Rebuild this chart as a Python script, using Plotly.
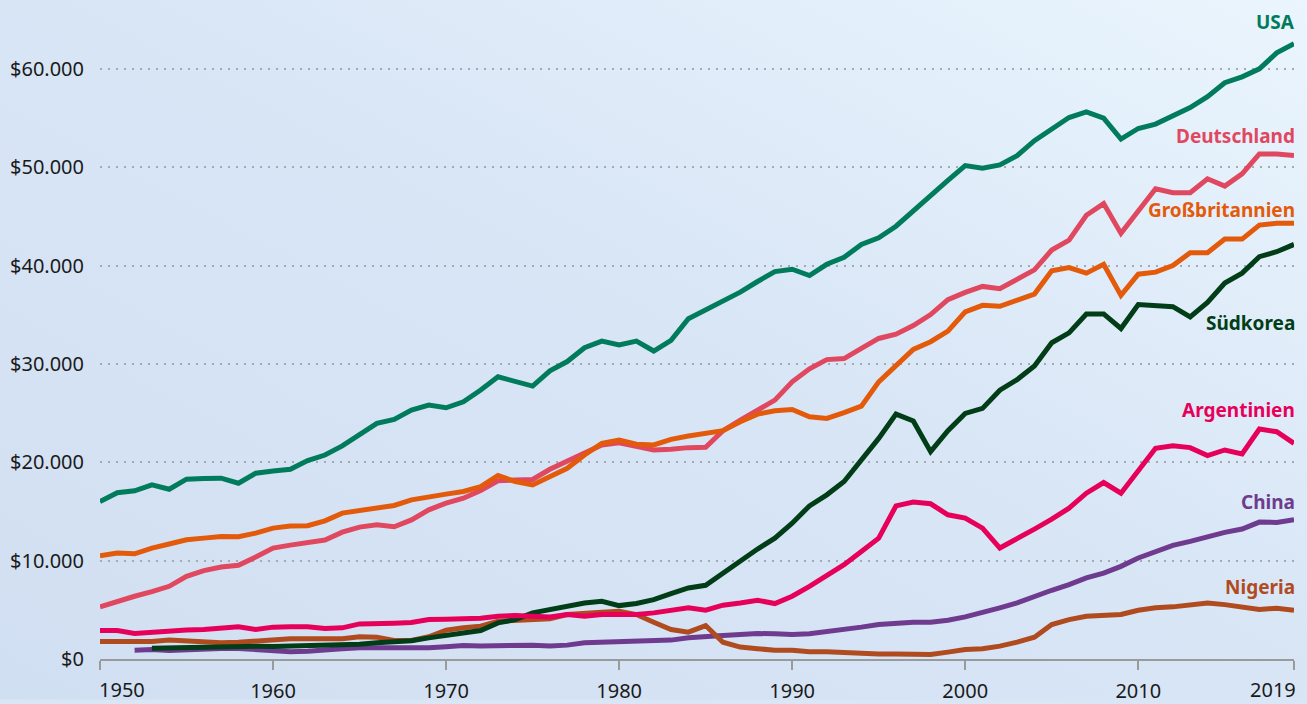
import base64
import plotly.graph_objects as go

years = list(range(1950, 2020))

usa = [16000, 16900, 17100, 17700, 17260, 18280, 18340, 18380, 17870, 18890,
       19120, 19290, 20170, 20740, 21660, 22770, 23960, 24360, 25310, 25810,
       25540, 26150, 27340, 28690, 28180, 27750, 29300, 30240, 31650, 32320,
       31920, 32320, 31310, 32390, 34600, 35520, 36300, 37300, 38380, 39390,
       39630, 38990, 40130, 40840, 42150, 42830, 44000, 45500, 47140, 48650,
       50170, 49900, 50240, 51180, 52700, 53940, 55050, 55620, 54980, 52860,
       53940, 54380, 55290, 56060, 57170, 58590, 59190, 60000, 61620, 62560]

deutschland = [5300, 5870, 6380, 6850, 7390, 8410, 8980, 9350, 9520, 10370,
               11280, 11580, 11890, 12090, 12900, 13410, 13650, 13440, 14140, 15170,
               15840, 16350, 17130, 18110, 18210, 18250, 19290, 20070, 20850, 21760,
               21990, 21590, 21250, 21320, 21490, 21520, 23210, 24290, 25370, 26320,
               28180, 29500, 30440, 30540, 31580, 32590, 33030, 33900, 35020, 36530,
               37270, 37880, 37640, 38550, 39560, 41580, 42590, 45120, 46300, 43270,
               45520, 47810, 47410, 47410, 48820, 48080, 49330, 51350, 51350, 51180]

grossbritannien = [10500, 10770, 10700, 11280, 11690, 12120, 12290, 12460, 12430, 12800,
                   13310, 13510, 13550, 14050, 14830, 15100, 15340, 15610, 16180, 16420,
                   16760, 17030, 17530, 18650, 18040, 17700, 18550, 19390, 20740, 21930,
                   22260, 21830, 21760, 22330, 22670, 22940, 23210, 24120, 24900, 25240,
                   25370, 24630, 24460, 25040, 25710, 28180, 29750, 31480, 32260, 33330,
                   35290, 35960, 35860, 36430, 37100, 39460, 39800, 39230, 40130, 36970,
                   39120, 39330, 40000, 41310, 41310, 42690, 42690, 44110, 44310, 44310]

suedkorea = [None, None, None, 1100, 1150, 1200, 1180, 1250, 1280, 1290,
             1280, 1300, 1320, 1400, 1450, 1500, 1650, 1800, 1850, 2150,
             2390, 2660, 2900, 3670, 4010, 4690, 5030, 5360, 5700, 5870,
             5430, 5640, 6040, 6650, 7220, 7490, 8740, 10030, 11180, 12290,
             13810, 15570, 16690, 18040, 20170, 22430, 24900, 24200, 21080, 23210,
             24970, 25480, 27330, 28400, 29800, 32150, 33160, 35080, 35080, 33600,
             36030, 35960, 35820, 34780, 36260, 38220, 39230, 40910, 41410, 42150]

argentinien = [2900, 2900, 2590, 2730, 2800, 2960, 3000, 3100, 3270, 3000,
               3240, 3270, 3270, 3100, 3170, 3570, 3570, 3640, 3710, 4010,
               4050, 4110, 4150, 4350, 4420, 4350, 4280, 4520, 4350, 4520,
               4490, 4520, 4690, 4960, 5200, 4960, 5470, 5700, 5970, 5640,
               6380, 7390, 8510, 9590, 10940, 12290, 15570, 15950, 15780, 14660,
               14320, 13310, 11280, 12190, 13210, 14220, 15340, 16860, 17940, 16860,
               19220, 21420, 21690, 21490, 20680, 21250, 20850, 23380, 23110, 21930]

china = [None, None, 900, 970, 870, 970, 1040, 1070, 1070, 970,
         900, 730, 800, 970, 1040, 1140, 1140, 1070, 1040, 1140,
         1240, 1380, 1310, 1380, 1380, 1410, 1310, 1410, 1650, 1710,
         1710, 1710, 1820, 1920, 2150, 2320, 2390, 2490, 2590, 2560,
         2490, 2560, 2760, 3000, 3240, 3510, 3670, 3740, 3740, 3940,
         4280, 4690, 5200, 5700, 6380, 6990, 7560, 8240, 8740, 9420,
         10270, 10940, 11550, 11960, 12460, 12870, 13210, 13920, 13880, 14150]

nigeria = [1780, 1750, 1710, 1780, 1920, 1820, 1710, 1650, 1710, 1820,
           1990, 2050, 2050, 2090, 2050, 2260, 2220, 1880, 1880, 2260,
           2930, 3170, 3340, 3840, 3950, 4010, 4080, 4520, 4590, 4760,
           4860, 4520, 3740, 3000, 2730, 3400, 1710, 1210, 1040, 900,
           900, 730, 730, 630, 530, 500, 500, 530, 460, 700,
           970, 1040, 1310, 1710, 2220, 3510, 4010, 4350, 4420, 4520,
           4960, 5200, 5300, 5530, 5700, 5530, 5300, 5030, 5160, 4960]

series_names = ["China", "Nigeria", "Südkorea", "Deutschland", "Großbritannien", "Argentinien", "USA"]
series_values = [china, nigeria, suedkorea, deutschland, grossbritannien, argentinien, usa]
series_colors = ["#6E3B8E", "#B04B1F", "#013D16", "#E0485F", "#E35A0B", "#E6005A", "#007B5C"]

label_names = ["USA", "Deutschland", "Großbritannien", "Südkorea", "Argentinien", "China", "Nigeria"]
label_y = [64750, 53130, 45660, 34140, 25350, 15960, 7370]
label_colors = ["#007B5C", "#E0485F", "#E35A0B", "#013D16", "#E6005A", "#6E3B8E", "#B04B1F"]

y_tickvals = [0, 10000, 20000, 30000, 40000, 50000, 60000]
y_ticktext = ["$0", "$10.000", "$20.000", "$30.000", "$40.000", "$50.000", "$60.000"]
x_tickvals = [1950, 1960, 1970, 1980, 1990, 2000, 2010, 2019]
x_ticktext = ["", "1960", "1970", "1980", "1990", "2000", "2010", ""]
x_edge_labels = [("1950", 1950, "left", -3), ("2019", 2019, "right", 4)]

W, H = 1307, 704
L, R, T, B = 100, 13, 0, 41

fig = go.Figure()
for name, vals, col in zip(series_names, series_values, series_colors):
    fig.add_trace(go.Scatter(x=years, y=vals, mode="lines", name=name,
                             line=dict(color=col, width=5), connectgaps=False,
                             showlegend=False, hoverinfo="skip"))

FONT = "Noto Sans"
for name, yv, col in zip(label_names, label_y, label_colors):
    fig.add_annotation(x=2019, y=yv, xref="x", yref="y", text="<b>" + name + "</b>",
                       showarrow=False, xanchor="right", yanchor="middle", xshift=3,
                       font=dict(family=FONT, size=19, color=col))

for txt, xv, anchor, xs in x_edge_labels:
    fig.add_annotation(x=xv, y=0, xref="x", yref="paper", text=txt, showarrow=False,
                       xanchor=anchor, yanchor="middle", yshift=-30, xshift=xs,
                       font=dict(family=FONT, size=20, color="#1A1A1A"))

svg = ('<svg xmlns="http://www.w3.org/2000/svg" width="%d" height="%d">'
       '<defs><linearGradient id="g" x1="0" y1="1" x2="1" y2="0">'
       '<stop offset="0" stop-color="#D1DFF2"/><stop offset="0.55" stop-color="#D9E6F6"/>'
       '<stop offset="1" stop-color="#EAF5FD"/></linearGradient></defs>'
       '<rect width="%d" height="%d" fill="url(#g)"/></svg>') % (W, H, W, H)
src = "data:image/svg+xml;base64," + base64.b64encode(svg.encode()).decode()
pw = W - L - R
ph = H - T - B
fig.add_layout_image(dict(source=src, xref="paper", yref="paper",
                          x=-L / pw, y=1 + T / ph, sizex=W / pw, sizey=H / ph,
                          xanchor="left", yanchor="top", sizing="stretch",
                          layer="below"))

fig.update_layout(
    width=W, height=H,
    margin=dict(l=L, r=R, t=T, b=B, pad=0),
    paper_bgcolor="#D9E6F6",
    plot_bgcolor="rgba(0,0,0,0)",
    font=dict(family=FONT, color="#1A1A1A"),
    hovermode=False,
    xaxis=dict(range=[1950, 2019], tickvals=x_tickvals, ticktext=x_ticktext,
               showgrid=False, zeroline=False, showline=True, linecolor="#9A9A9A",
               linewidth=2, ticks="outside", ticklen=9, tickwidth=2, tickcolor="#9A9A9A",
               ticklabelstandoff=4, fixedrange=True,
               tickfont=dict(family=FONT, size=20, color="#1A1A1A")),
    yaxis=dict(range=[0, 67000], tickvals=y_tickvals, ticktext=y_ticktext,
               showgrid=True, gridcolor="#A3AAB3", gridwidth=2, griddash="2px,6px",
               zeroline=False, showline=False, ticks="", ticklabelstandoff=15,
               fixedrange=True,
               tickfont=dict(family=FONT, size=20, color="#1A1A1A")),
)

fig.write_html("out.html", config={"displayModeBar": False, "staticPlot": True},
               post_script="document.body.style.margin='0';document.documentElement.style.overflow='hidden';document.body.style.overflow='hidden';")
